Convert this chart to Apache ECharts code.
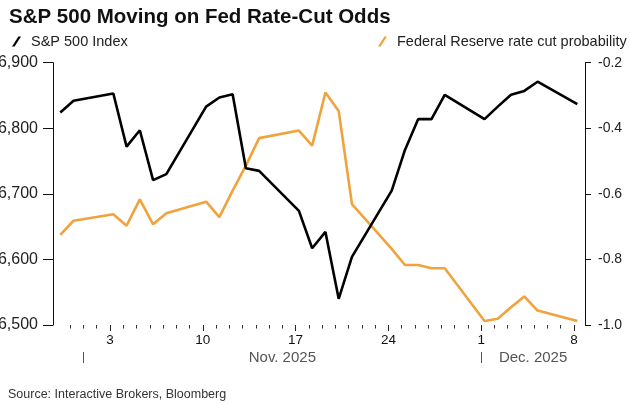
<!DOCTYPE html>
<html>
<head>
<meta charset="utf-8">
<script src="https://cdn.jsdelivr.net/npm/echarts@6/dist/echarts.min.js"></script>
<style>
  html, body { margin: 0; padding: 0; background: #fff; }
  #chart { width: 630px; height: 404px; }
</style>
</head>
<body>
<div id="chart"></div>
<script>
// ---------- data ----------
const dates = [
  '2025-10-30','2025-10-31',
  '2025-11-03','2025-11-04','2025-11-05','2025-11-06','2025-11-07',
  '2025-11-10','2025-11-11','2025-11-12','2025-11-13','2025-11-14',
  '2025-11-17','2025-11-18','2025-11-19','2025-11-20','2025-11-21',
  '2025-11-24','2025-11-25','2025-11-26','2025-11-27','2025-11-28',
  '2025-12-01','2025-12-02','2025-12-03','2025-12-04','2025-12-05',
  '2025-12-08'
];
const spx = [
  6824, 6842,
  6853, 6772, 6797, 6721, 6730,
  6833, 6847, 6852, 6739, 6735,
  6674, 6617, 6642, 6540, 6604,
  6705, 6767, 6814, 6814, 6851,
  6814, 6833, 6851, 6857, 6871,
  6837
];
const fedCut = [
  -0.725, -0.682,
  -0.662, -0.697, -0.617, -0.693, -0.659,
  -0.624, -0.671, -0.590, -0.514, -0.430,
  -0.407, -0.453, -0.291, -0.347, -0.631,
  -0.768, -0.817, -0.817, -0.827, -0.827,
  -0.988, -0.981, -0.946, -0.913, -0.956,
  -0.988
];
const seriesNames = ['S&P 500 Index', 'Federal Reserve rate cut probability'];
const firstTickDate = '2025-10-31';
const dayLabelDates = ['2025-11-03','2025-11-10','2025-11-17','2025-11-24','2025-12-01','2025-12-08'];
const monthStartDates = ['2025-11-01','2025-12-01'];
const monthLabels = ['Nov. 2025','Dec. 2025'];
const leftTicks = [6500, 6600, 6700, 6800, 6900];
const rightTicks = [-1.0, -0.8, -0.6, -0.4, -0.2];
const titleText = 'S&P 500 Moving on Fed Rate-Cut Odds';
const sourceText = 'Source: Interactive Brokers, Bloomberg';

// ---------- helpers ----------
const ORIGIN = Date.UTC(2025, 9, 31);
function dayNum(s) {
  const [y, m, d] = s.split('-').map(Number);
  return (Date.UTC(y, m - 1, d) - ORIGIN) / 86400000;
}
const xDays = dates.map(dayNum);
const tickMin = -1.3, tickMax = 38.83;   // visible date range of the axis
const dataShift = 0.25;                  // points sit a little after the day tick
const allDays = [];
for (let d = dayNum(firstTickDate); d <= Math.floor(tickMax); d++) allDays.push(d);
const labelDays = dayLabelDates.map(dayNum);
const monthStarts = monthStartDates.map(dayNum);
const monthCenters = monthStarts.map((s, i) => {
  const e = i + 1 < monthStarts.length ? monthStarts[i + 1] : tickMax;
  return (s + e) / 2;
});

const FONT = 'Liberation Sans, Arial, sans-serif';
const ORANGE = '#f0a33c';
const BLACK = '#000000';
const slash = 'path://M0,10 L2.6,10 L9,0 L6.4,0 Z';

const chart = echarts.init(document.getElementById('chart'));
const option = {
  animation: false,
  backgroundColor: '#ffffff',
  textStyle: { fontFamily: FONT },
  title: [
    { text: titleText, left: 4, top: 2,
      textStyle: { fontFamily: FONT, fontSize: 20.5, fontWeight: 'bold', color: '#111' } },
    { text: sourceText, left: 3, top: 383,
      textStyle: { fontFamily: FONT, fontSize: 12.5, fontWeight: 'normal', color: '#333' } }
  ],
  legend: [
    { data: [seriesNames[0]], left: 7, top: 29, itemWidth: 9, itemHeight: 10, icon: slash,
      textStyle: { fontFamily: FONT, fontSize: 14.5, color: '#222', padding: [0, 0, 0, 5] } },
    { data: [seriesNames[1]], left: 373, top: 29, itemWidth: 9, itemHeight: 10, icon: slash,
      textStyle: { fontFamily: FONT, fontSize: 14.5, color: '#222', padding: [0, 0, 0, 5] } }
  ],
  grid: { left: 53, right: 45, top: 62.7, bottom: 79, containLabel: false, outerBoundsMode: 'none' },
  xAxis: [
    { type: 'value', min: tickMin - dataShift, max: tickMax - dataShift, show: false,
      axisLine: { onZero: false } },
    { type: 'value', min: tickMin, max: tickMax, position: 'bottom',
      axisLine: { show: false, onZero: false }, splitLine: { show: false },
      axisTick: { show: true, length: 3.5, customValues: allDays, lineStyle: { color: '#333', width: 1 } },
      axisLabel: { show: false } },
    { type: 'value', min: tickMin, max: tickMax, position: 'bottom',
      axisLine: { show: false, onZero: false }, splitLine: { show: false },
      axisTick: { show: true, length: 6, customValues: labelDays, lineStyle: { color: '#222', width: 1 } },
      axisLabel: { show: true, customValues: labelDays, margin: 8, fontSize: 13.5, color: '#111',
        fontFamily: FONT,
        formatter: v => { const i = labelDays.indexOf(v); return i >= 0 ? String(Number(dayLabelDates[i].slice(8))) : ''; } } },
    { type: 'value', min: tickMin, max: tickMax, position: 'bottom', offset: 27,
      axisLine: { show: false, onZero: false }, splitLine: { show: false },
      axisTick: { show: true, length: 11, customValues: monthStarts, lineStyle: { color: '#555', width: 1 } },
      axisLabel: { show: true, customValues: monthCenters, margin: 6, verticalAlign: 'middle',
        fontSize: 15, color: '#555', fontFamily: FONT,
        formatter: v => { const i = monthCenters.indexOf(v); return i >= 0 ? monthLabels[i] : ''; } } }
  ],
  yAxis: [
    { type: 'value', position: 'left', min: leftTicks[0], max: leftTicks[leftTicks.length - 1],
      interval: leftTicks[1] - leftTicks[0],
      axisLine: { show: true, onZero: false, lineStyle: { color: '#111', width: 1 } },
      axisTick: { show: true, length: 10, lineStyle: { color: '#111', width: 1 } },
      splitLine: { show: false },
      axisLabel: { margin: 15, fontSize: 16, color: '#222', fontFamily: FONT,
        formatter: v => v.toLocaleString('en-US') } },
    { type: 'value', position: 'right', min: rightTicks[0], max: rightTicks[rightTicks.length - 1],
      interval: 0.2,
      axisLine: { show: true, onZero: false, lineStyle: { color: '#111', width: 1 } },
      axisTick: { show: true, length: 6, lineStyle: { color: '#111', width: 1 } },
      splitLine: { show: false },
      axisLabel: { margin: 13, fontSize: 14, color: '#222', fontFamily: FONT,
        formatter: v => v.toFixed(1) } }
  ],
  series: [
    { name: seriesNames[1], type: 'line', xAxisIndex: 0, yAxisIndex: 1,
      data: xDays.map((x, i) => [x, fedCut[i]]),
      showSymbol: false, symbol: 'none', color: ORANGE,
      lineStyle: { color: ORANGE, width: 2.6 }, z: 2 },
    { name: seriesNames[0], type: 'line', xAxisIndex: 0, yAxisIndex: 0,
      data: xDays.map((x, i) => [x, spx[i]]),
      showSymbol: false, symbol: 'none', color: BLACK,
      lineStyle: { color: BLACK, width: 2.6 }, z: 3 }
  ]
};
chart.setOption(option);
</script>
</body>
</html>
